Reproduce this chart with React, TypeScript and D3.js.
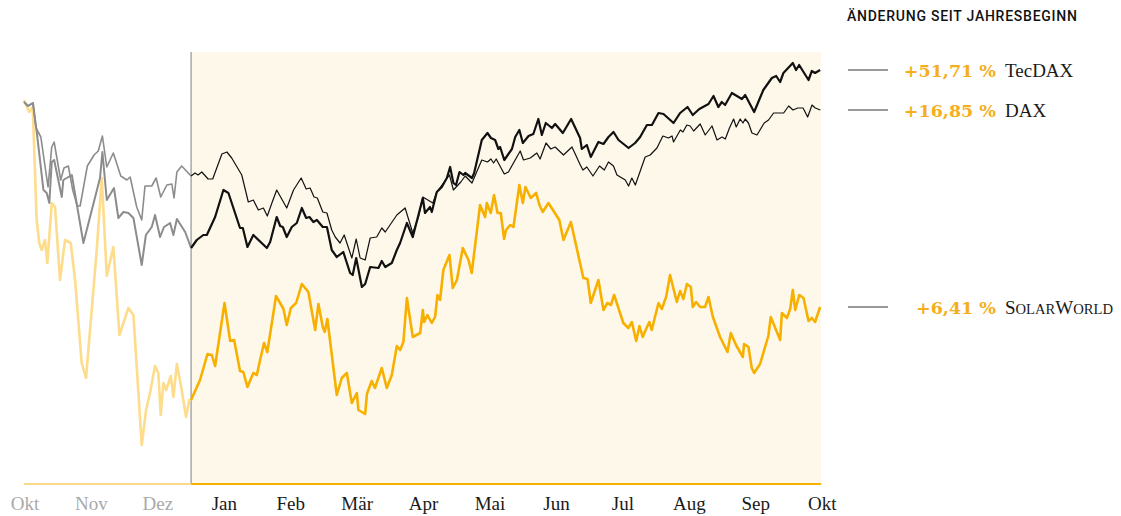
import React from "react";
import * as d3 from "d3";

// [day relative to Jan 1, index level]
const TECDAX: [number, number][] = [
[-76.5,382],[-74.7,378],[-72.4,381],[-70.5,349],[-67.6,294],[-66.1,291],[-64.9,281],[-63.8,322],[-62.7,324],[-59.2,287],[-58.5,304],[-54.6,309],[-49.3,241],[-41.7,306],[-40.6,332],[-38.6,284],[-35.3,296],[-33.3,266],[-31.0,272],[-28.7,271],[-26.4,266],[-22.6,219],[-20.7,249],[-18.0,257],[-16.5,269],[-14.2,247],[-12.4,257],[-9.6,261],[-8.1,249],[-6.5,265],[-2.7,252],[0,236],
[2.6,244],[5.6,249],[7.2,249],[11.0,267],[14.8,294],[17.1,291],[22.4,256],[23.7,256],[25.8,237],[28.5,249],[34.7,236],[36.2,242],[39.2,267],[40.8,258],[42.0,257],[43.8,247],[46.1,257],[48.4,261],[50.7,276],[52.7,266],[54.2,267],[56.0,262],[57.6,264],[60.3,257],[62.2,257],[64.4,234],[66.7,227],[69.7,232],[72.8,211],[74.0,209],[75.6,226],[78.2,197],[79.7,200],[82.0,217],[85.8,216],[87.3,223],[88.9,217],[91.9,221],[94.2,234],[95.7,241],[98.8,261],[101.5,247],[106.1,286],[107.1,271],[109.4,277],[110.2,272],[112.5,292],[114.8,297],[117.1,306],[118.6,317],[120.1,301],[121.3,299],[122.9,312],[124.7,309],[125.5,311],[128.6,306],[129.6,311],[133.1,344],[135.7,351],[137.3,346],[139.2,344],[140.7,335],[141.5,337],[143.4,324],[146.9,335],[148.4,347],[150.3,354],[151.9,341],[154.5,348],[156.7,350],[159.0,365],[160.6,349],[162.4,361],[165.2,356],[166.7,360],[170.2,351],[174.0,365],[178.1,346],[178.9,335],[181.2,339],[183.0,327],[186.5,342],[188.8,340],[191.1,347],[193.4,352],[195.7,344],[200.3,336],[203.3,341],[205.6,347],[208.7,359],[211.0,359],[214.0,371],[216.3,370],[220.9,361],[223.9,371],[227.3,377],[229.7,369],[232.7,375],[236.9,380],[239.2,388],[241.4,377],[243.0,382],[244.5,379],[247.6,391],[252.2,385],[253.7,389],[257.8,372],[262.0,394],[265.9,406],[267.9,408],[269.7,402],[271.2,411],[275.5,421],[277.0,414],[278.4,419],[282.7,404],[284.2,413],[285.7,411],[288.0,414]
];

const DAX: [number, number][] = [
[-76.5,382],[-74.7,378],[-72.4,381],[-71.0,356],[-68.8,347],[-65.5,297],[-63.8,337],[-62.7,342],[-59.7,304],[-58.2,316],[-56.2,318],[-54.2,294],[-52.1,278],[-50.8,278],[-47.5,318],[-44.4,329],[-42.5,333],[-40.6,348],[-38.6,317],[-35.6,331],[-32.2,308],[-29.4,304],[-27.9,307],[-24.9,277],[-22.6,264],[-21.1,298],[-18.0,298],[-16.0,306],[-13.9,287],[-11.1,299],[-8.8,300],[-7.8,286],[-6.5,312],[-4.3,318],[0,308],
[1.8,311],[3.2,309],[4.9,312],[7.8,305],[9.9,305],[14.1,330],[16.4,332],[18.6,326],[23.2,309],[26.2,282],[28.5,284],[30.8,274],[33.1,276],[34.9,268],[37.0,281],[39.2,294],[43.8,276],[46.9,294],[50.4,306],[52.7,295],[54.5,296],[56.3,287],[57.8,286],[60.3,272],[62.2,271],[64.4,254],[66.0,247],[68.2,241],[70.1,249],[73.6,226],[75.6,245],[77.4,226],[79.7,224],[82.0,246],[85.0,247],[87.3,256],[88.9,252],[94.2,269],[98.0,276],[101.5,251],[104.1,267],[106.1,287],[110.7,281],[112.5,292],[118.3,309],[120.1,294],[123.5,302],[125.5,308],[128.6,301],[133.1,324],[135.7,322],[137.3,325],[138.5,321],[139.7,325],[143.4,310],[145.3,312],[150.7,333],[152.2,324],[155.3,326],[158.3,331],[159.8,325],[162.5,341],[164.7,335],[166.7,337],[170.5,329],[174.4,337],[178.2,319],[179.4,314],[181.2,317],[184.0,308],[187.0,318],[189.2,314],[191.1,322],[193.4,318],[195.0,309],[198.8,304],[200.3,298],[201.8,306],[203.4,299],[207.9,327],[210.2,329],[213.3,336],[216.0,348],[218.6,346],[220.2,348],[220.9,342],[224.0,354],[225.2,352],[227.0,359],[228.5,358],[230.1,353],[233.1,360],[235.4,349],[238.5,358],[240.8,344],[243.1,347],[244.6,345],[246.5,356],[248.4,365],[249.6,357],[251.4,365],[252.7,361],[253.7,365],[255.2,361],[256.8,351],[259.1,349],[262.4,361],[264.4,364],[266.7,371],[271.3,371],[273.6,378],[275.6,374],[277.7,376],[280.2,376],[282.3,367],[284.3,379],[285.8,376],[288.1,374]
];

const SOLARWORLD: [number, number][] = [
[-76.5,384],[-74.1,372],[-72.5,377],[-70.7,264],[-69.5,241],[-68.4,234],[-66.9,244],[-65.8,221],[-63.8,281],[-62.3,277],[-60.0,204],[-57.7,244],[-55.1,241],[-53.1,204],[-50.1,121],[-48.1,106],[-43.2,234],[-40.9,306],[-38.6,208],[-35.6,237],[-32.8,149],[-28.7,176],[-26.4,169],[-22.6,39],[-20.6,74],[-18.8,91],[-16.5,118],[-15.0,111],[-13.9,69],[-12.7,101],[-11.4,94],[-9.3,108],[-8.1,87],[-6.5,120],[-4.3,94],[-2.3,67],[-0.8,84],[0,84],
[4.1,104],[7.5,130],[9.5,129],[11.0,118],[15.3,181],[17.9,143],[19.7,144],[22.4,113],[23.9,112],[25.8,97],[28.5,111],[30.1,109],[31.6,124],[33.4,141],[34.9,132],[38.9,188],[42.3,175],[43.8,159],[45.7,176],[48.1,181],[50.7,200],[53.7,192],[56.8,154],[58.3,180],[60.3,157],[61.2,152],[62.4,165],[66.7,89],[69.0,106],[71.3,111],[73.6,81],[75.9,91],[76.6,74],[79.7,70],[80.5,90],[82.7,103],[84.2,96],[87.3,116],[89.6,96],[91.9,109],[94.2,138],[95.7,134],[97.2,142],[98.8,186],[101.5,147],[104.9,151],[106.1,174],[106.7,162],[108.2,169],[110.2,161],[111.7,167],[112.8,189],[114.0,184],[115.5,214],[118.3,229],[119.8,196],[121.7,204],[124.4,236],[127.0,224],[128.5,211],[132.3,279],[134.6,267],[135.4,281],[137.2,271],[138.7,289],[140.3,271],[141.8,271],[143.3,245],[144.2,254],[146.1,259],[147.6,257],[150.3,299],[151.9,281],[153.1,297],[155.5,286],[158.0,291],[159.5,279],[161.0,272],[163.6,281],[168.6,264],[170.5,244],[173.9,262],[179.6,206],[181.5,205],[183.0,181],[186.5,204],[188.8,174],[190.6,181],[192.2,179],[193.7,189],[197.9,161],[200.2,156],[201.8,162],[203.8,143],[205.3,158],[206.8,147],[207.9,153],[209.8,162],[210.9,154],[214.0,181],[215.5,175],[217.5,187],[219.3,209],[222.4,182],[223.9,193],[225.4,185],[227.0,200],[228.8,197],[229.7,177],[231.2,182],[233.1,177],[235.3,177],[236.9,187],[238.9,167],[242.2,147],[245.6,132],[247.1,151],[249.5,139],[252.6,127],[253.2,140],[255.2,137],[256.7,116],[257.8,111],[260.5,120],[264.3,148],[265.4,167],[269.7,144],[270.5,171],[272.8,166],[274.3,175],[275.5,194],[276.6,174],[278.5,189],[280.4,186],[282.7,163],[284.2,166],[285.7,162],[288.0,177]
];

const MONTHS = ["Okt", "Nov", "Dez", "Jan", "Feb", "Mär", "Apr", "Mai", "Jun", "Jul", "Aug", "Sep", "Okt"];
const CHANGES = ["+51,71 %", "+16,85 %", "+6,41 %"];
const NAMES = ["TecDAX", "DAX", "SolarWorld"];
const TITLE = "ÄNDERUNG SEIT JAHRESBEGINN";

const W = 1121, H = 516;
const X0 = 24, X1 = 821.2, YTOP = 52, YBOT = 484;

// renders a name in small caps: capitals full size, lowercase as smaller capitals
function SmallCaps({ text, big, small }: { text: string; big: number; small: number }) {
  const parts: { s: string; up: boolean }[] = [];
  for (const ch of text) {
    const up = ch === ch.toUpperCase();
    const last = parts[parts.length - 1];
    if (last && last.up === up) last.s += ch;
    else parts.push({ s: ch, up });
  }
  return (
    <>
      {parts.map((p, i) => (
        <tspan key={i} fontSize={p.up ? big : small}>{p.s.toUpperCase()}</tspan>
      ))}
    </>
  );
}

export default function App() {
  const x = d3.scaleLinear().domain([-76.5, 288.5]).range([X0, X1]);
  const y = d3.scaleLinear().domain([0, 432]).range([YBOT, YTOP]);
  const line = d3.line<[number, number]>().x(d => x(d[0])).y(d => y(d[1]));
  const pre = (s: [number, number][]) => s.filter(d => d[0] <= 0);
  const cur = (s: [number, number][]) => s.filter(d => d[0] >= 0);
  const x0 = x(0);
  const xEnd = x(288.5);
  const series = [TECDAX, DAX, SOLARWORLD];
  const serif = "'Liberation Serif', 'Times New Roman', serif";

  return (
    <div style={{ position: "fixed", left: 0, top: 0 }}>
      <svg width={W} height={H} style={{ display: "block", background: "#fff" }}>
        <rect x={x0} y={YTOP} width={xEnd - x0} height={YBOT - YTOP} fill="#fef8ea" />
        <line x1={x0} x2={x0} y1={YTOP} y2={YBOT} stroke="#a8a8a8" strokeWidth={1.5} />
        {/* previous year */}
        <path d={line(pre(SOLARWORLD)) || ""} fill="none" stroke="#fddc8c" strokeWidth={2.6} strokeLinejoin="round" />
        <path d={line(pre(DAX)) || ""} fill="none" stroke="#8c8c8c" strokeWidth={1.6} strokeLinejoin="round" />
        <path d={line(pre(TECDAX)) || ""} fill="none" stroke="#8c8c8c" strokeWidth={2} strokeLinejoin="round" />
        {/* current year */}
        <path d={line(cur(SOLARWORLD)) || ""} fill="none" stroke="#f8b000" strokeWidth={2.6} strokeLinejoin="round" />
        <path d={line(cur(DAX)) || ""} fill="none" stroke="#111" strokeWidth={1.2} strokeLinejoin="round" />
        <path d={line(cur(TECDAX)) || ""} fill="none" stroke="#111" strokeWidth={2.2} strokeLinejoin="round" />
        {/* baseline */}
        <line x1={X0} x2={x0} y1={YBOT} y2={YBOT} stroke="#fcd98a" strokeWidth={2} />
        <line x1={x0} x2={xEnd} y1={YBOT} y2={YBOT} stroke="#f8b000" strokeWidth={2} />
        {/* month labels */}
        {MONTHS.map((m, i) => (
          <text key={i} x={x((i - 2.5) * 365 / 12)} y={510} textAnchor="middle"
            fontFamily={serif} fontSize={19} fill={i < 3 ? "#a9a9a9" : "#1a1a1a"}>{m}</text>
        ))}
        {/* legend */}
        <text x={847} y={21} fontFamily="Roboto, sans-serif" fontWeight={500} fontSize={14}
          letterSpacing={0.75} fill="#111">{TITLE}</text>
        {series.map((s, i) => {
          const ly = y(s[s.length - 1][1]);
          return (
            <g key={i}>
              <line x1={848} x2={888} y1={ly} y2={ly} stroke="#777" strokeWidth={1.5} />
              <text x={996} y={ly + 6.5} textAnchor="end" fontFamily="'DejaVu Serif', serif" fontWeight="bold"
                fontSize={17.5} fill="#f5ae1c">{CHANGES[i]}</text>
              <text x={1005} y={ly + 6.5} fontFamily={serif} fontSize={19} fill="#1a1a1a">
                {i === 2 ? <SmallCaps text={NAMES[i]} big={19} small={14.6} /> : NAMES[i]}
              </text>
            </g>
          );
        })}
      </svg>
    </div>
  );
}
